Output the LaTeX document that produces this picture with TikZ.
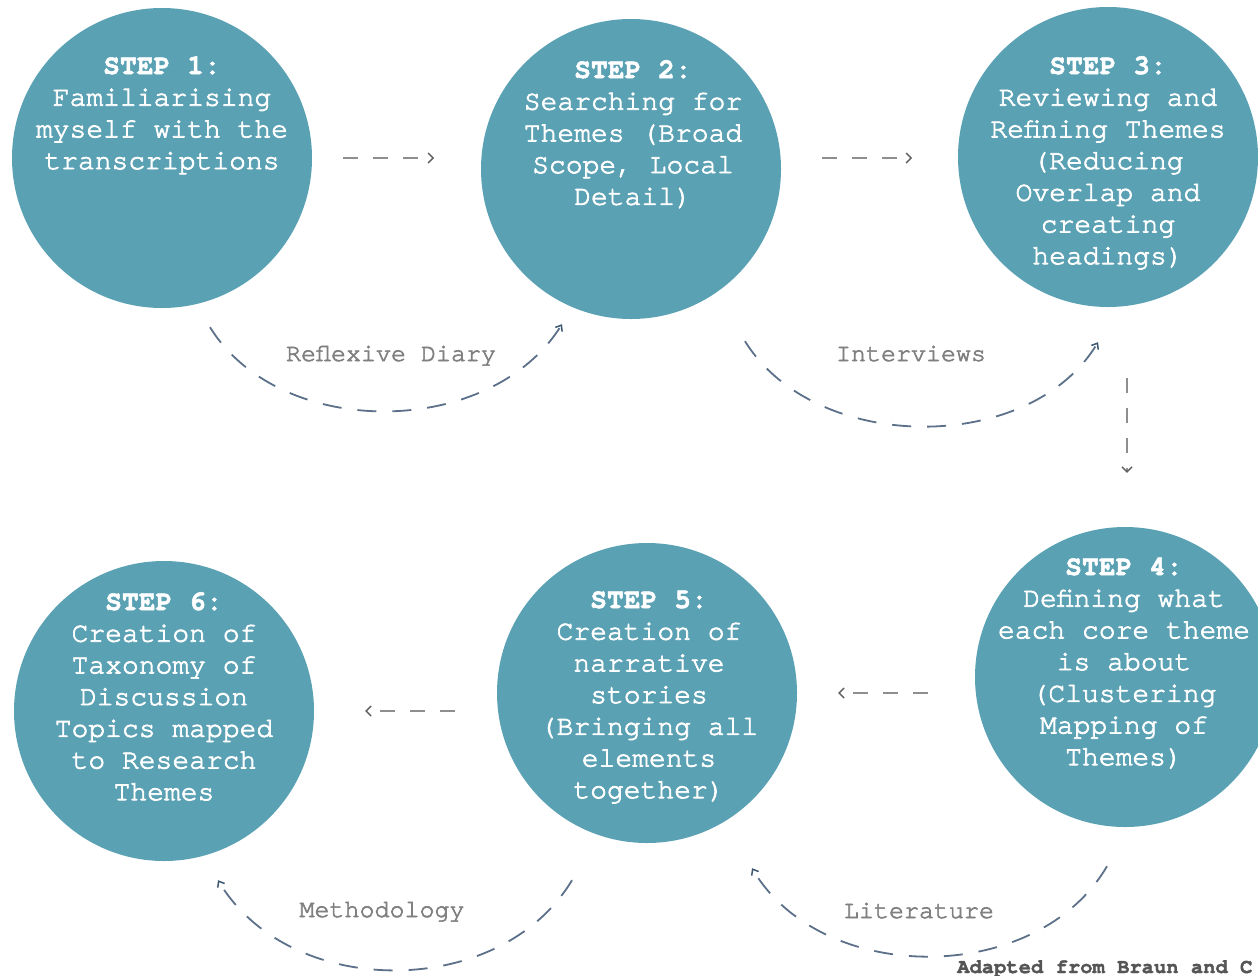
\documentclass[tikz,border=0pt]{standalone}
\usepackage{fontspec}
\setmonofont{TeX Gyre Cursor}[UprightFeatures={FakeBold=2.6},BoldFeatures={FakeBold=1.8}]
\usetikzlibrary{arrows.meta,calc}
\definecolor{stepteal}{HTML}{5BA1B4}
\definecolor{arcblue}{HTML}{5C7089}
\definecolor{tipblue}{HTML}{3D5773}
\definecolor{flowgray}{HTML}{8E8E8E}
\definecolor{flowtip}{HTML}{5E5E5E}
\definecolor{labelgray}{HTML}{808080}
\definecolor{notegray}{HTML}{555555}
\begin{document}
\begin{tikzpicture}[x=1pt,y=-1pt,
  stepcircle/.style={circle,fill=stepteal,draw=none,minimum size=300pt,inner sep=0pt},
  % a multi-line node sits on the baseline of its last line
  steptext/.style={text=white,align=center,anchor=base,inner sep=0pt,
    font=\ttfamily\fontsize{28}{31.7}\selectfont},
  flowarrow/.style={draw=flowgray,line width=1.6pt,dash pattern=on 15pt off 15pt,
    -{Straight Barb[length=5pt,width=10pt,line width=1.4pt,color=flowtip]}},
  looparc/.style={draw=arcblue,line width=1.8pt,dash pattern=on 19pt off 16pt,
    -{Straight Barb[length=5pt,width=8pt,line width=1.5pt,color=tipblue]}},
  arclabel/.style={text=labelgray,anchor=base,inner sep=0pt,
    font=\ttfamily\fontsize{25}{28}\selectfont}
]
\useasboundingbox (0,0) rectangle (1258,975);
\clip (0,0) rectangle (1258,975);

% the six steps
\node[stepcircle] (s1) at (162,158) {};
\node[stepcircle] (s2) at (631,169) {};
\node[stepcircle] (s3) at (1108,157) {};
\node[stepcircle] (s4) at (1125,677) {};
\node[stepcircle] (s5) at (647,693) {};
\node[stepcircle] (s6) at (164,711) {};

\node[steptext] (t1) at (162,169.1) {\textbf{STEP 1:}\\Familiarising\\myself with the\\transcriptions};
\node[steptext] (t2) at (633,204.8) {\textbf{STEP 2:}\\Searching for\\Themes (Broad\\Scope, Local\\Detail)};
\node[steptext] (t3) at (1108,264.2) {\textbf{STEP 3:}\\Reviewing and\\Refining Themes\\(Reducing\\Overlap and\\creating\\headings)};
\node[steptext] (t4) at (1124,765.2) {\textbf{STEP 4:}\\Defining what\\each core theme\\is about\\(Clustering\\Mapping of\\Themes)};
\node[steptext] (t5) at (649,798.2) {\textbf{STEP 5:}\\Creation of\\narrative\\stories\\(Bringing all\\elements\\together)};
\node[steptext] (t6) at (164,800.2) {\textbf{STEP 6:}\\Creation of\\Taxonomy of\\Discussion\\Topics mapped\\to Research\\Themes};

% straight flow between neighbouring steps
\draw[flowarrow] ([xshift=31pt]s1.east) -- ([xshift=122pt]s1.east);
\draw[flowarrow] ([xshift=41pt]s2.east |- s1.east) -- ([xshift=131pt]s2.east |- s1.east);
\draw[flowarrow] ($(s3.south)+(19,71)$) -- ($(s4.north)+(2,-54)$);
\draw[flowarrow] ([xshift=-47pt]s4.west |- s5.east) -- ([xshift=41pt]s5.east);
\draw[flowarrow] ([xshift=-42pt]s5.west |- s6.east) -- ([xshift=51pt]s6.east);

% feedback arcs beneath the steps
\draw[looparc] ($(s1.south)+(48,19)$) .. controls +(70,113) and +(-72,115) .. ($(s2.south)+(-69,5)$);
\draw[looparc] ($(s2.south)+(114,22)$) .. controls +(70,113) and +(-68,113) .. ($(s3.south)+(-10,35)$);
\draw[looparc] ($(s5.south)+(-75,37)$) .. controls +(-72,120) and +(72,120) .. ($(s6.south)+(54,19)$);
\draw[looparc] ($(s4.south)+(-18,39)$) .. controls +(-70,120) and +(70,118) .. ($(s5.south)+(105,25)$);

\node[arclabel] (l1) at (391,361) {Reflexive Diary};
\node[arclabel] (l2) at (911,361) {Interviews};
\node[arclabel] (l3) at (382,917) {Methodology};
\node[arclabel] (l4) at (919,918) {Literature};

\node[anchor=base west,inner sep=0pt,text=notegray,
  font=\ttfamily\bfseries\fontsize{20.5}{24}\selectfont] (src) at (957,973) {Adapted from Braun and C};
\end{tikzpicture}
\end{document}
